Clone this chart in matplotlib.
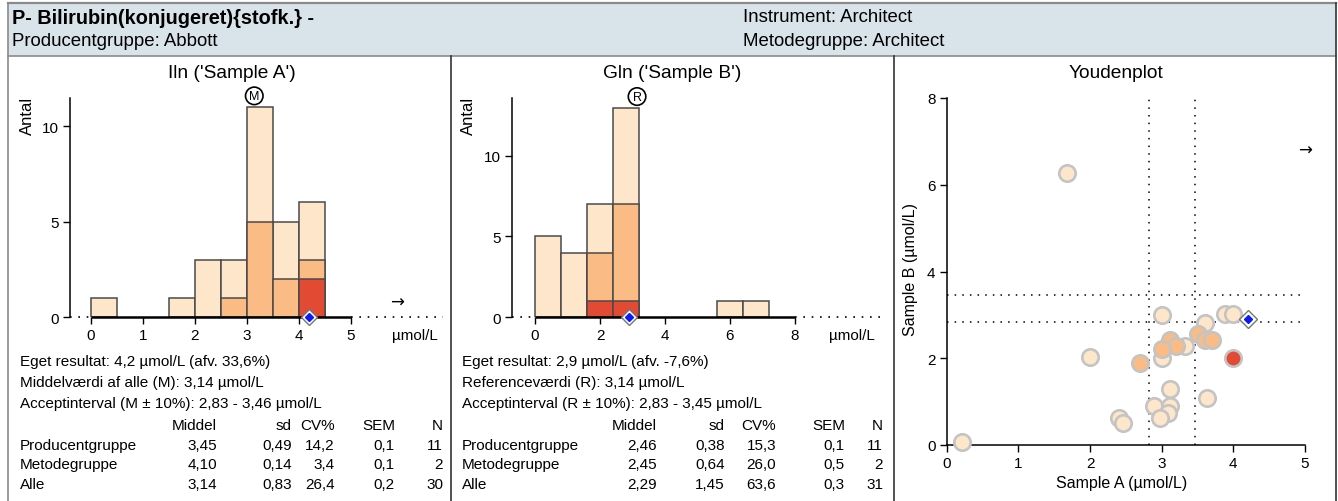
import numpy as np
import matplotlib.pyplot as plt
from matplotlib.patches import Rectangle
from matplotlib.lines import Line2D

plt.rcParams['font.family'] = ['Liberation Sans', 'DejaVu Sans']

# --- data ---------------------------------------------------------------
bins_a = [0.0, 0.5, 1.0, 1.5, 2.0, 2.5, 3.0, 3.5, 4.0]
all_a = [1, 0, 0, 1, 3, 3, 11, 5, 6]
prod_a = [0, 0, 0, 0, 0, 1, 5, 2, 3]
meth_a = [0, 0, 0, 0, 0, 0, 0, 0, 2]
width_a = 0.5
own_a = 4.2
mean_a = 3.14

bins_b = [0.0, 0.8, 1.6, 2.4, 3.2, 4.0, 4.8, 5.6, 6.4]
all_b = [5, 4, 7, 13, 0, 0, 0, 1, 1]
prod_b = [0, 0, 4, 7, 0, 0, 0, 0, 0]
meth_b = [0, 0, 1, 1, 0, 0, 0, 0, 0]
width_b = 0.8
own_b = 2.9
ref_b = 3.14

# Youden points (Sample A, Sample B)
yd_all_x = [3.0, 3.88, 4.0, 3.6, 3.33, 3.0, 2.0, 3.11, 3.63, 2.89, 3.11, 3.09, 2.97, 2.4, 2.46, 0.21, 1.68]
yd_all_y = [3.0, 3.01, 3.01, 2.81, 2.28, 2.0, 2.02, 1.29, 1.08, 0.91, 0.89, 0.74, 0.62, 0.62, 0.51, 0.08, 6.27]
yd_prod_x = [3.5, 3.11, 3.6, 3.7, 3.2, 3.0, 2.7]
yd_prod_y = [2.56, 2.41, 2.41, 2.41, 2.28, 2.22, 1.89]
yd_meth_x = [4.0]
yd_meth_y = [2.0]
limits_a = (2.83, 3.46)
limits_b = (2.83, 3.45)

stat_cols = ['Middel', 'sd', 'CV%', 'SEM', 'N']
stat_rows = ['Producentgruppe', 'Metodegruppe', 'Alle']
stats_a = [['3,45', '0,49', '14,2', '0,1', '11'],
           ['4,10', '0,14', '3,4', '0,1', '2'],
           ['3,14', '0,83', '26,4', '0,2', '30']]
stats_b = [['2,46', '0,38', '15,3', '0,1', '11'],
           ['2,45', '0,64', '26,0', '0,5', '2'],
           ['2,29', '1,45', '63,6', '0,3', '31']]
info_a = ['Eget resultat: 4,2 µmol/L (afv. 33,6%)',
          'Middelværdi af alle (M): 3,14 µmol/L',
          'Acceptinterval (M ± 10%): 2,83 - 3,46 µmol/L']
info_b = ['Eget resultat: 2,9 µmol/L (afv. -7,6%)',
          'Referenceværdi (R): 3,14 µmol/L',
          'Acceptinterval (R ± 10%): 2,83 - 3,45 µmol/L']

c_all = '#fde6c9'
c_prod = '#fabb84'
c_meth = '#e24a33'
c_edge = '#4a4a4a'

W, H = 1338, 502
fig = plt.figure(figsize=(W / 100, H / 100), dpi=100)


def box(l, t, r, b):
    return [l / W, 1 - b / H, (r - l) / W, (b - t) / H]


def ftext(x, y, s, **kw):
    kw.setdefault('va', 'center')
    kw.setdefault('fontsize', 11)
    fig.text(x / W, 1 - y / H, s, **kw)


def fline(xs, ys, **kw):
    fig.add_artist(Line2D([x / W for x in xs], [1 - y / H for y in ys], **kw))


# header band and panel frames
fig.add_artist(Rectangle((8 / W, 1 - 57 / H), (1336 - 8) / W, 53 / H,
                         transform=fig.transFigure, facecolor='#d9e4ea',
                         edgecolor='none'))
fline([8, 1336], [4, 4], color='#8a8a8a', lw=1.6)
fline([8, 1336], [57, 57], color='#8a8a8a', lw=1.2)
fline([8, 8], [4, 502], color='#8a8a8a', lw=1.2)
fline([451, 451], [57, 502], color='#333333', lw=1.2)
fline([894, 894], [57, 502], color='#333333', lw=1.2)
fline([1336, 1336], [4, 502], color='#333333', lw=1.2)

ftext(12, 18, 'P- Bilirubin(konjugeret){stofk.} -', fontsize=14.3, fontweight='bold')
ftext(12, 41, 'Producentgruppe: Abbott', fontsize=13.4)
ftext(743, 18, 'Instrument: Architect', fontsize=13.4)
ftext(743, 41, 'Metodegruppe: Architect', fontsize=13.4)


def histogram(ax, bins, width, counts_all, counts_prod, counts_meth,
              xticks, xmax_data, own, centre, letter, ymax):
    for counts, col in [(counts_all, c_all), (counts_prod, c_prod), (counts_meth, c_meth)]:
        h = np.array(counts)
        x = np.array(bins)
        m = h > 0
        ax.bar(x[m], h[m], width=width, align='edge', color=col,
               edgecolor=c_edge, linewidth=1.1, zorder=2)
    ax.set_ylim(0, ymax)
    lo, hi = ax.get_xlim()
    ax.plot([0, xmax_data], [0, 0], color='black', lw=1.8, zorder=3,
            clip_on=False, solid_capstyle='butt')
    ax.plot([lo, 0], [0, 0], color='black', lw=1.2, ls=(0, (1, 4)), zorder=3, clip_on=False)
    ax.plot([xmax_data, hi], [0, 0], color='black', lw=1.2, ls=(0, (1, 4)), zorder=3, clip_on=False)
    for s in ['top', 'right', 'bottom']:
        ax.spines[s].set_visible(False)
    ax.spines['left'].set_linewidth(1.1)
    ax.set_xticks(xticks)
    ax.set_yticks([0, 5, 10])
    ax.tick_params(labelsize=11, length=5, width=1, direction='out', pad=3)
    ax.patch.set_alpha(0)
    # own result
    ax.plot(own, 0, marker='D', ms=8.5, mfc='white', mec='#777777', mew=1,
            clip_on=False, zorder=5)
    ax.plot(own, 0, marker='D', ms=4, mfc='#0a1cf0', mec='#0a1cf0',
            clip_on=False, zorder=6)
    # centre value marker above the tallest bar
    ax.annotate(letter, xy=(centre, max(counts_all)), xytext=(0, 8),
                textcoords='offset points', ha='center', va='center',
                fontsize=9, annotation_clip=False,
                bbox=dict(boxstyle='circle,pad=0.22', fc='white', ec='black', lw=1.2))


ax_a = fig.add_axes(box(70, 99, 443, 318))
ax_a.set_xlim(-0.404, 6.77)
histogram(ax_a, bins_a, width_a, all_a, prod_a, meth_a, [0, 1, 2, 3, 4, 5], 5,
          own_a, mean_a, 'M', 11.47)
ax_a.text(5.88, 0.8, '→', fontsize=12, family='DejaVu Sans', ha='center', va='center')

ax_b = fig.add_axes(box(512, 99, 885, 318))
ax_b.set_xlim(-0.708, 10.77)
histogram(ax_b, bins_b, width_b, all_b, prod_b, meth_b, [0, 2, 4, 6, 8], 8,
          own_b, ref_b, 'R', 13.6)

ftext(27, 116, 'Antal', fontsize=12, rotation=90, ha='center')
ftext(468, 116, 'Antal', fontsize=12, rotation=90, ha='center')
ftext(232, 73, "Iln ('Sample A')", fontsize=13.8, ha='center')
ftext(672, 73, "Gln ('Sample B')", fontsize=13.8, ha='center')
ftext(1116, 73, 'Youdenplot', fontsize=13.8, ha='center')
ftext(415, 336, 'µmol/L', ha='center')
ftext(852, 336, 'µmol/L', ha='center')

# statistics below the histograms
for left, info, stats, col_right in [
        (20, info_a, stats_a, [217, 292, 335, 395, 443]),
        (462, info_b, stats_b, [657, 725, 776, 845, 883])]:
    for i, line in enumerate(info):
        ftext(left, 362 + 21 * i, line)
    for c, name in enumerate(stat_cols):
        ftext(col_right[c], 426, name, ha='right')
    for r, row in enumerate(stat_rows):
        y = 446 + 19.5 * r
        ftext(left, y, row)
        for c, val in enumerate(stats[r]):
            ftext(col_right[c], y, val, ha='right')

# Youden plot
ax_y = fig.add_axes(box(946.7, 99, 1305, 446))
ax_y.set_xlim(0, 5)
ax_y.set_ylim(0, 8)
for v in limits_a:
    ax_y.plot([v, v], [0, 8], color='black', lw=1.1, ls=(0, (1, 4)), zorder=1)
for v in limits_b:
    ax_y.plot([0, 5], [v, v], color='black', lw=1.1, ls=(0, (1, 4)), zorder=1)
for xs, ys, col in [(yd_all_x, yd_all_y, c_all), (yd_prod_x, yd_prod_y, c_prod),
                    (yd_meth_x, yd_meth_y, c_meth)]:
    ax_y.scatter(xs, ys, s=140, color=col, edgecolors='#c4c4c4', linewidths=1.9,
                 zorder=3, clip_on=False)
ax_y.plot(own_a, own_b, marker='D', ms=9, mfc='white', mec='#777777', mew=1,
          clip_on=False, zorder=5)
ax_y.plot(own_a, own_b, marker='D', ms=4.2, mfc='#0a1cf0', mec='#0a1cf0',
          clip_on=False, zorder=6)
ax_y.text(5.0, 6.8, '→', fontsize=12, family='DejaVu Sans', ha='center',
          va='center', clip_on=False)
for s in ['top', 'right']:
    ax_y.spines[s].set_visible(False)
ax_y.spines['left'].set_linewidth(1.1)
ax_y.spines['bottom'].set_linewidth(1.1)
ax_y.set_xticks([0, 1, 2, 3, 4, 5])
ax_y.set_yticks([0, 2, 4, 6, 8])
ax_y.tick_params(labelsize=11, length=5, width=1, direction='out', pad=3)
ax_y.patch.set_alpha(0)
ftext(1122, 484, 'Sample A (µmol/L)', fontsize=11.5, ha='center')
ftext(911, 270, 'Sample B (µmol/L)', fontsize=11.5, rotation=90, ha='center')

fig.savefig('out.png', dpi=100)
